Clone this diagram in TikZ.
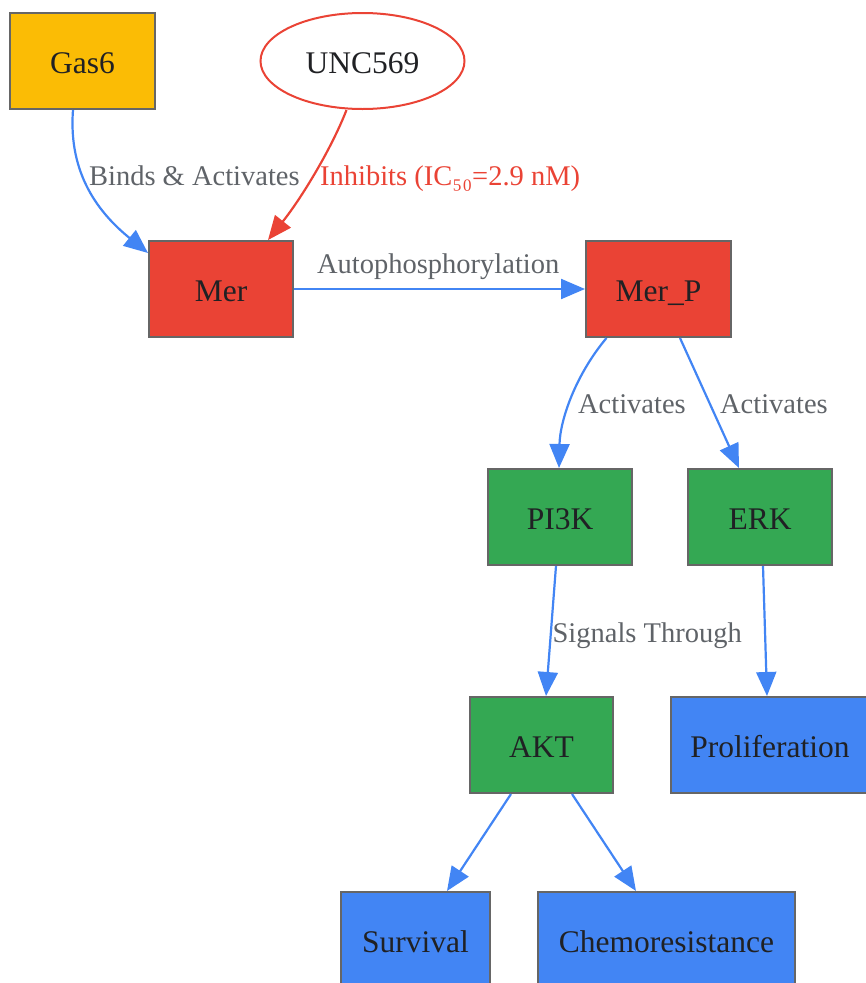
\documentclass[tikz,border=0pt]{standalone}
\usepackage{fontspec}
\setmainfont{Liberation Serif}
\usetikzlibrary{arrows.meta,shapes.geometric}
\definecolor{gYellow}{HTML}{FBBC05}
\definecolor{gRed}{HTML}{EA4335}
\definecolor{gGreen}{HTML}{34A853}
\definecolor{gBlue}{HTML}{4285F4}
\definecolor{gBorder}{HTML}{666666}
\definecolor{gText}{HTML}{202124}
\definecolor{gLabel}{HTML}{5F6368}

\begin{document}
\begin{tikzpicture}[
  x=1pt, y=-1pt,
  box/.style={draw=gBorder, line width=2pt, rectangle, minimum height=96pt,
    text=gText, font=\fontsize{31.5}{36}\selectfont,
    text height=24pt, text depth=0pt, inner sep=0pt},
  ligand/.style={box, fill=gYellow},
  receptor/.style={box, fill=gRed},
  kinase/.style={box, fill=gGreen},
  outcome/.style={box, fill=gBlue},
  drug/.style={draw=gRed, line width=2pt, ellipse, fill=white, text=gText,
    minimum width=204pt, minimum height=96pt, inner sep=0pt,
    font=\fontsize{31.5}{36}\selectfont, text height=24pt, text depth=0pt},
  edge/.style={draw=gBlue, line width=2.2pt, -{Triangle[length=24pt,width=20pt]}},
  block/.style={draw=gRed, line width=2.2pt, -{Triangle[length=24pt,width=20pt]}},
  lbl/.style={text=gLabel, font=\fontsize{28.5}{33}\selectfont, inner sep=0pt, anchor=base west},
  redlbl/.style={lbl, text=gRed}
]
  \useasboundingbox (0,0) rectangle (866,983);

  % --- Knoten ---
  \node (gas6)  [ligand, minimum width=145pt]  at (82.5,61) {Gas6};
  \node (unc)   [drug]                         at (362.5,61) {UNC569};
  \node (mer)   [receptor, minimum width=144pt] at (221,289) {Mer};
  \node (merp)  [receptor, minimum width=145pt] at (658.5,289) {Mer\_P};
  \node (pi3k)  [kinase, minimum width=144pt]  at (560,517) {PI3K};
  \node (erk)   [kinase, minimum width=144pt]  at (760,517) {ERK};
  \node (akt)   [kinase, minimum width=143pt]  at (541.5,745) {AKT};
  \node (prolif)[outcome, minimum width=198pt] at (770,745) {Proliferation};
  \node (surv)  [outcome, minimum width=149pt] at (415.5,940) {Survival};
  \node (chemo) [outcome, minimum width=257pt] at (666.5,940) {Chemoresistance};

  % --- Kanten ---
  \draw[edge] ([xshift=-9.5pt]gas6.south) .. controls +(-5,65) and +(-48,-39) .. ([yshift=-13pt]mer.north west)
    node[lbl] at (88,185) {Binds \& Activates};
  \draw[block] ([xshift=-16pt]unc.south) .. controls +(-16,41) and +(32,-40) .. ([xshift=47pt]mer.north)
    node[redlbl] at (319,185) {Inhibits (IC₅₀=2.9 nM)};
  \draw[edge] (mer.east) -- (merp.west)
    node[lbl] at (316,273) {Autophosphorylation};
  \draw[edge] ([xshift=-52pt]merp.south) .. controls +(-31,37) and +(1,-48) .. ([xshift=-1pt]pi3k.north)
    node[lbl] at (577,413) {Activates};
  \draw[edge] ([xshift=21.5pt]merp.south) -- ([xshift=-21pt]erk.north)
    node[lbl] at (719,413) {Activates};
  \draw[edge] ([xshift=-4pt]pi3k.south) -- ([xshift=4.5pt]akt.north)
    node[lbl] at (551.5,642) {Signals Through};
  \draw[edge] ([xshift=3pt]erk.south) -- ([xshift=-3pt]prolif.north);
  \draw[edge] ([xshift=-30.5pt]akt.south) -- ([xshift=31.5pt]surv.north);
  \draw[edge] ([xshift=30.5pt]akt.south) -- ([xshift=-30.5pt]chemo.north);
\end{tikzpicture}
\end{document}
